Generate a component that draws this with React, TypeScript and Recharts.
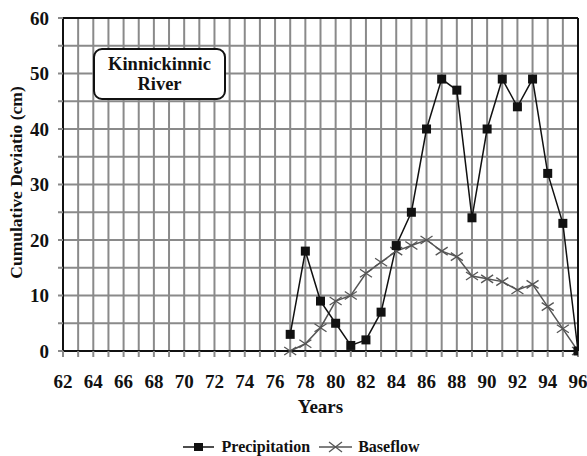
import React from "react";
import {
    LineChart,
    Line,
    XAxis,
    YAxis,
    CartesianGrid,
    Legend,
    ReferenceLine,
} from "recharts";

// Data
const YEARS = [77, 78, 79, 80, 81, 82, 83, 84, 85, 86, 87, 88, 89, 90, 91, 92, 93, 94, 95, 96];
const PRECIPITATION = [3, 18, 9, 5, 1, 2, 7, 19, 25, 40, 49, 47, 24, 40, 49, 44, 49, 32, 23, 0];
const BASEFLOW = [0, 1.3, 4.2, 9, 10, 14, 16, 18, 19, 20, 18, 17, 13.5, 13, 12.5, 11, 12, 8, 4, 0];
const X_TICKS = Array.from({ length: 35 }, (_, i) => 62 + i);
const Y_TICKS = [0, 5, 10, 15, 20, 25, 30, 35, 40, 45, 50, 55, 60];

const FONT = '"Liberation Serif"';

const data = YEARS.map((year, i) => ({
    year,
    precipitation: PRECIPITATION[i],
    baseflow: BASEFLOW[i],
}));

const SquareDot = (props: any) => {
    const { cx, cy, index } = props;
    if (cx == null || cy == null) return null;
    return <rect key={`sq-${index}`} x={cx - 4.5} y={cy - 4.5} width={9} height={9} fill="#111" />;
};

const CrossDot = (props: any) => {
    const { cx, cy, index } = props;
    if (cx == null || cy == null) return null;
    return (
        <g key={`x-${index}`} stroke="#555" strokeWidth={1.3}>
            <line x1={cx - 6} y1={cy - 4} x2={cx + 6} y2={cy + 4} />
            <line x1={cx - 6} y1={cy + 4} x2={cx + 6} y2={cy - 4} />
        </g>
    );
};

const renderLegend = () => (
    <div
        style={{
            display: "flex",
            justifyContent: "center",
            alignItems: "center",
            fontFamily: FONT,
            fontWeight: "bold",
            fontSize: 16,
            color: "#111",
            paddingLeft: 24,
            paddingTop: 27,
        }}
    >
        <svg width={32} height={12} style={{ marginRight: 7 }}>
            <line x1={0} y1={6} x2={31} y2={6} stroke="#111" strokeWidth={1.5} />
            <rect x={11} y={2} width={9} height={8} fill="#111" />
        </svg>
        <span style={{ marginRight: 9 }}>Precipitation</span>
        <svg width={34} height={12} style={{ marginRight: 5 }}>
            <line x1={0} y1={6} x2={33} y2={6} stroke="#555" strokeWidth={1.5} />
            <line x1={10} y1={1} x2={23} y2={11} stroke="#555" strokeWidth={1.3} />
            <line x1={10} y1={11} x2={23} y2={1} stroke="#555" strokeWidth={1.3} />
        </svg>
        <span>Baseflow</span>
    </div>
);

const XLabel = (props: any) => {
    const { viewBox } = props;
    if (!viewBox) return null;
    return (
        <text
            x={viewBox.x + viewBox.width / 2}
            y={viewBox.y + 62}
            textAnchor="middle"
            style={{ fontFamily: FONT }}
            fontWeight="bold"
            fontSize={19}
            fill="#111"
        >
            Years
        </text>
    );
};

const YLabel = (props: any) => {
    const { viewBox } = props;
    if (!viewBox) return null;
    const cx = 16;
    const cy = viewBox.y + viewBox.height / 2 - 2;
    return (
        <text
            x={cx}
            y={cy}
            transform={`rotate(-90 ${cx} ${cy})`}
            textAnchor="middle"
            dominantBaseline="central"
            style={{ fontFamily: FONT }}
            fontWeight="bold"
            fontSize={17.5}
            fill="#111"
        >
            Cumulative Deviatio (cm)
        </text>
    );
};

export default function App() {
    return (
        <div style={{ position: "absolute", left: 0, top: 0, width: 587, height: 456, background: "#fff", fontFamily: FONT }}>
            <LineChart
                width={587}
                height={456}
                data={data}
                margin={{ top: 18, right: 9, left: 0, bottom: 0 }}
                style={{ fontFamily: FONT }}
            >
                <CartesianGrid stroke="#8a8a8a" strokeWidth={2} />
                <XAxis
                    dataKey="year"
                    type="number"
                    domain={[62, 96]}
                    ticks={X_TICKS}
                    interval={0}
                    allowDataOverflow
                    height={60}
                    axisLine={{ stroke: "#111", strokeWidth: 2 }}
                    tickLine={{ stroke: "#8a8a8a", strokeWidth: 2 }}
                    tickSize={6}
                    tickMargin={18}
                    tickFormatter={(v: number) => (v % 2 === 0 ? String(v) : "")}
                    tick={{ fill: "#111", fontFamily: FONT, fontWeight: "bold", fontSize: 19 }}
                    label={<XLabel />}
                />
                <YAxis
                    type="number"
                    domain={[0, 60]}
                    ticks={Y_TICKS}
                    interval={0}
                    width={63}
                    axisLine={{ stroke: "#111", strokeWidth: 2 }}
                    tickLine={{ stroke: "#8a8a8a", strokeWidth: 2 }}
                    tickSize={5}
                    tickMargin={9}
                    tickFormatter={(v: number) => (v % 10 === 0 ? String(v) : "")}
                    tick={{ fill: "#111", fontFamily: FONT, fontWeight: "bold", fontSize: 19 }}
                    label={<YLabel />}
                />
                <ReferenceLine y={60} stroke="#111" strokeWidth={2} />
                <ReferenceLine x={96} stroke="#111" strokeWidth={2} />
                <Legend verticalAlign="bottom" height={45} content={renderLegend} />
                <Line
                    type="linear"
                    dataKey="baseflow"
                    name="Baseflow"
                    stroke="#555"
                    strokeWidth={1.5}
                    dot={<CrossDot />}
                    isAnimationActive={false}
                />
                <Line
                    type="linear"
                    dataKey="precipitation"
                    name="Precipitation"
                    stroke="#111"
                    strokeWidth={1.5}
                    dot={<SquareDot />}
                    isAnimationActive={false}
                />
            </LineChart>
            <div
                style={{
                    position: "absolute",
                    left: 93,
                    top: 48,
                    width: 129,
                    height: 48,
                    border: "2px solid #111",
                    borderRadius: 9,
                    background: "#fff",
                    fontFamily: FONT,
                    fontWeight: "bold",
                    fontSize: 18.5,
                    lineHeight: "20px",
                    textAlign: "center",
                    display: "flex",
                    flexDirection: "column",
                    justifyContent: "center",
                    color: "#111",
                }}
            >
                <div>Kinnickinnic</div>
                <div>River</div>
            </div>
        </div>
    );
}
